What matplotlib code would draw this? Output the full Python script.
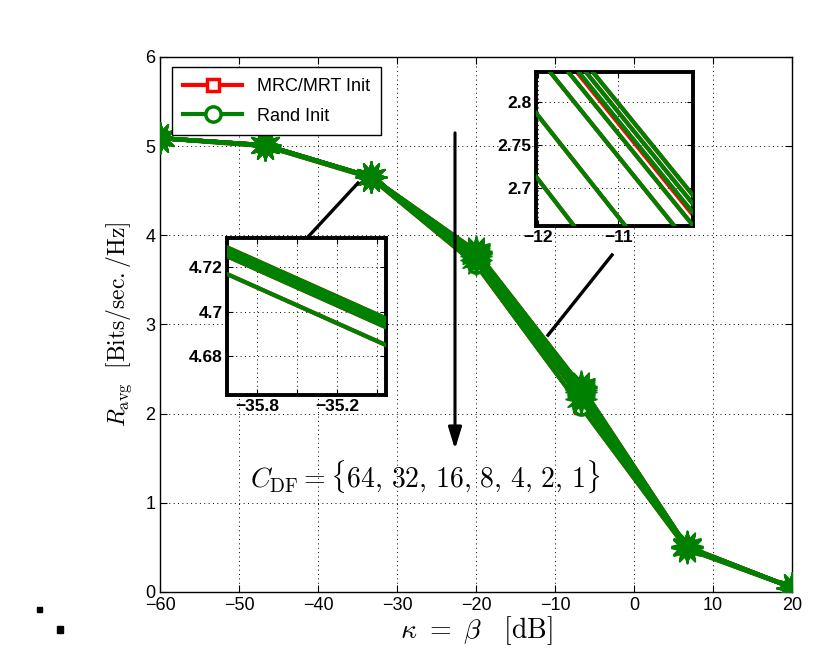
import matplotlib
matplotlib.use('Agg')
import matplotlib.pyplot as plt
from matplotlib.patches import Rectangle
import numpy as np

plt.rcParams['font.family'] = ['Liberation Sans', 'DejaVu Sans']
plt.rcParams['mathtext.fontset'] = 'cm'

# kappa = beta in dB
kappa_db = [-60, -46.67, -33.33, -20, -6.67, 6.67, 20]
c_df = [64, 32, 16, 8, 4, 2, 1]

# average rate for each C_DF, MRC/MRT initialisation
rate_mrc = [
    [5.09, 5.012, 4.657, 3.825, 2.305, 0.512, 0.05],
    [5.09, 5.011, 4.656, 3.815, 2.295, 0.510, 0.05],
    [5.09, 5.010, 4.655, 3.802, 2.282, 0.505, 0.05],
    [5.09, 5.010, 4.655, 3.790, 2.270, 0.502, 0.05],
    [5.09, 5.009, 4.654, 3.770, 2.240, 0.500, 0.05],
    [5.09, 5.008, 4.653, 3.720, 2.160, 0.492, 0.05],
    [5.09, 5.000, 4.645, 3.670, 2.070, 0.482, 0.05],
]
# average rate for each C_DF, random initialisation
rate_rand = [
    [5.09, 5.012, 4.657, 3.825, 2.305, 0.512, 0.05],
    [5.09, 5.011, 4.656, 3.815, 2.295, 0.510, 0.05],
    [5.09, 5.010, 4.655, 3.805, 2.285, 0.505, 0.05],
    [5.09, 5.010, 4.655, 3.790, 2.270, 0.502, 0.05],
    [5.09, 5.009, 4.654, 3.770, 2.240, 0.500, 0.05],
    [5.09, 5.008, 4.653, 3.720, 2.160, 0.492, 0.05],
    [5.09, 5.000, 4.645, 3.670, 2.070, 0.482, 0.05],
]

red = '#ff0000'
green = '#008000'
star = (12, 1, 0)
dots = (0, (1, 3.5))


def draw_curves(ax, markers=True):
    for r in rate_mrc:
        ax.plot(kappa_db, r, '-', color=red, lw=3, zorder=2,
                marker='s' if markers else None, ms=9, mfc='white', mec=red, mew=2.5)
    for r in rate_rand:
        ax.plot(kappa_db, r, '-', color=green, lw=3, zorder=3,
                marker='o' if markers else None, ms=11, mfc='white', mec=green, mew=2.5)
    if markers:
        for r in rate_rand[:-1]:
            ax.plot(kappa_db, r, ls='none', marker=star, ms=23, color=green,
                    mec=green, zorder=4)


fig = plt.figure(figsize=(8.21, 6.65), dpi=100)
ax = fig.add_axes([0.1949, 0.1098, 0.7698, 0.8045])
draw_curves(ax)

ax.set_xlim(-60, 20)
ax.set_ylim(0, 6)
ax.set_xticks(np.arange(-60, 21, 10))
ax.set_yticks(np.arange(0, 7, 1))
ax.tick_params(direction='in', top=True, right=True, labelsize=13, length=5, width=0.8)
ax.grid(True, ls=dots, color='black', lw=0.7)
for s in ax.spines.values():
    s.set_linewidth(1.0)
ax.set_xlabel(r'$\kappa\ =\ \beta\ \ \ [\mathrm{dB}]$', fontsize=20, labelpad=0)
ax.set_ylabel(r'$R_{\mathrm{avg}}\ \ [\mathrm{Bits/sec./Hz}]$', fontsize=17, labelpad=8)

h1, = ax.plot([], [], '-', color=red, lw=3, marker='s', ms=9, mfc='white', mec=red, mew=2.5)
h2, = ax.plot([], [], '-', color=green, lw=3, marker='o', ms=11, mfc='white', mec=green, mew=2.5)
leg = ax.legend([h1, h2], ['MRC/MRT Init', 'Rand Init'], loc='upper left',
                bbox_to_anchor=(0.019, 0.981), borderaxespad=0, fontsize=13,
                fancybox=False, framealpha=1, edgecolor='black', handlelength=3.3,
                handletextpad=0.8, borderpad=0.6, labelspacing=0.7)
leg.get_frame().set_linewidth(1.0)
leg.set_zorder(10)

# arrow and C_DF annotation
ax.annotate('', xy=(-22.66, 1.57), xytext=(-22.66, 5.18),
            arrowprops=dict(arrowstyle='-|>,head_length=1.3,head_width=0.4',
                            color='black', lw=2.2), zorder=6)
ax.text(-26.4, 1.28, r'$C_{\mathrm{DF}} = \{64,\,32,\,16,\,8,\,4,\,2,\,1\}$',
        fontsize=20, ha='center', va='center', zorder=6)

# connector lines to insets
ax.plot([-41.39, -34.94], [3.97, 4.587], color='black', lw=2.4, zorder=6)
ax.plot([-2.78, -10.89], [3.78, 2.88], color='black', lw=2.4, zorder=6)

# inset 1
ax1 = fig.add_axes([0.2765, 0.406, 0.1937, 0.236])
draw_curves(ax1, markers=False)
ax1.set_xlim(-36.03, -34.83)
ax1.set_ylim(4.6625, 4.733)
ax1.set_xticks([-35.8, -35.5, -35.2, -34.9])
ax1.set_xticklabels(['\u221235.8', '', '\u221235.2', ''])
ax1.set_yticks([4.68, 4.70, 4.72])
ax1.set_yticklabels(['4.68', '4.7', '4.72'])

# inset 2
ax2 = fig.add_axes([0.6529, 0.6602, 0.1912, 0.2316])
draw_curves(ax2, markers=False)
ax2.set_xlim(-12.03, -10.06)
ax2.set_ylim(2.656, 2.835)
ax2.set_xticks([-12, -11])
ax2.set_yticks([2.7, 2.75, 2.8])
ax2.set_yticklabels(['2.7', '2.75', '2.8'])

for a in (ax1, ax2):
    a.grid(True, ls=dots, color='black', lw=0.7)
    a.tick_params(direction='in', top=True, right=True, labelsize=12.5, length=4, width=0.8, pad=3)
    for lab in a.get_xticklabels() + a.get_yticklabels():
        lab.set_fontweight('bold')
    for s in a.spines.values():
        s.set_linewidth(2.8)
    a.set_facecolor('white')
    a.set_zorder(8)

# stray marks in the lower-left corner
fig.add_artist(Rectangle((37 / 821, 1 - 612 / 665), 5 / 821, 5 / 665,
                         transform=fig.transFigure, color='black'))
fig.add_artist(Rectangle((57 / 821, 1 - 633 / 665), 6 / 821, 7 / 665,
                         transform=fig.transFigure, color='black'))

fig.savefig('out.png', dpi=100)
